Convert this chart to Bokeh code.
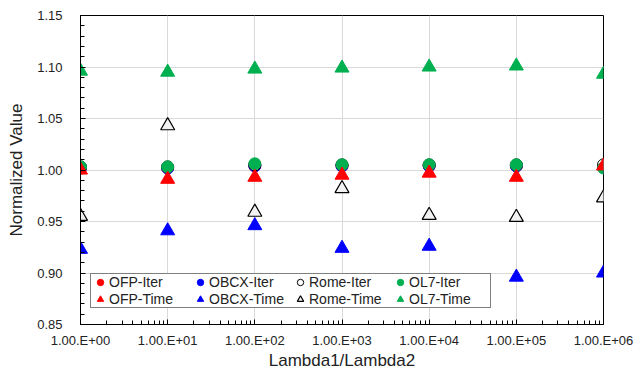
from bokeh.plotting import figure
from bokeh.models import (Range1d, FixedTicker, NumeralTickFormatter, CustomJSTickFormatter,
                          Legend, LegendItem)
from bokeh.embed import file_html
from bokeh.resources import INLINE

# ---- data ----
lambda_ratio = [1, 10, 100, 1000, 10000, 100000, 1000000]
x_tick_labels = ["1.00.E+00", "1.00.E+01", "1.00.E+02", "1.00.E+03",
                 "1.00.E+04", "1.00.E+05", "1.00.E+06"]
y_ticks = [0.85, 0.90, 0.95, 1.00, 1.05, 1.10, 1.15]

ofp_iter = [1.002, 1.002, 1.004, 1.004, 1.004, 1.004, 1.003]
obcx_iter = [1.002, 1.002, 1.004, 1.004, 1.004, 1.004, 1.003]
rome_iter = [1.003, 1.003, 1.005, 1.005, 1.005, 1.005, 1.005]
ol7_iter = [1.003, 1.003, 1.006, 1.005, 1.005, 1.005, 1.002]
ofp_time = [1.000, 0.991, 0.993, 0.995, 0.997, 0.993, 1.004]
obcx_time = [0.923, 0.941, 0.946, 0.924, 0.926, 0.896, 0.900]
rome_time = [0.955, 1.043, 0.959, 0.982, 0.956, 0.954, 0.973]
ol7_time = [1.096, 1.095, 1.098, 1.099, 1.100, 1.101, 1.093]

FONT = "Liberation Sans"
TXT = "#222222"

p = figure(width=635, height=372, x_axis_type="log",
           x_range=Range1d(1, 1e6), y_range=Range1d(0.85, 1.15),
           output_backend="svg", toolbar_location=None,
           min_border_left=80, min_border_right=32, min_border_top=15, min_border_bottom=47)

p.background_fill_color = "white"
p.border_fill_color = "white"
p.outline_line_color = "black"
p.outline_line_width = 1

# axes / ticks
x_minor = [m * 10 ** k for k in range(6) for m in range(2, 10)]
p.xaxis.ticker = FixedTicker(ticks=lambda_ratio, minor_ticks=x_minor)
p.xaxis.formatter = CustomJSTickFormatter(args=dict(labels=x_tick_labels),
                                          code="return labels[Math.round(Math.log10(tick))];")
y_minor = [round(0.85 + 0.01 * i, 2) for i in range(31)]
p.yaxis.ticker = FixedTicker(ticks=y_ticks, minor_ticks=y_minor)
p.yaxis.formatter = NumeralTickFormatter(format="0.00")

for ax in (p.xaxis, p.yaxis):
    ax.major_tick_in = 5
    ax.major_tick_out = 0
    ax.minor_tick_in = 4
    ax.minor_tick_out = 0
    ax.axis_line_color = "black"
    ax.major_tick_line_color = "black"
    ax.minor_tick_line_color = "black"
    ax.major_label_text_font = FONT
    ax.major_label_text_font_size = "13px"
    ax.major_label_text_color = TXT
    ax.axis_label_text_font = FONT
    ax.axis_label_text_font_size = "17px"
    ax.axis_label_text_font_style = "normal"
    ax.axis_label_text_color = TXT

p.xaxis.major_label_standoff = 8
p.xaxis.axis_label = "Lambda1/Lambda2"
p.xaxis.axis_label_standoff = 0
p.yaxis.major_label_standoff = 18
p.yaxis.axis_label = "Normalized Value"
p.yaxis.axis_label_standoff = 8

p.xgrid.grid_line_color = "#D9D9D9"
p.ygrid.grid_line_color = "#D9D9D9"

# ---- series ----
r_ofp_i = p.scatter(lambda_ratio, ofp_iter, marker="circle", size=12, fill_color="#FF0000", line_color="#FF0000")
r_obcx_i = p.scatter(lambda_ratio, obcx_iter, marker="circle", size=12, fill_color="#0000FF", line_color="#0000FF")
r_rome_i = p.scatter(lambda_ratio, rome_iter, marker="circle", size=12, fill_color="white", line_color="black")
r_ol7_i = p.scatter(lambda_ratio, ol7_iter, marker="circle", size=12, fill_color="#00B050", line_color="#00B050")
r_ofp_t = p.scatter(lambda_ratio, ofp_time, marker="triangle", size=14, fill_color="#FF0000", line_color="#FF0000")
r_obcx_t = p.scatter(lambda_ratio, obcx_time, marker="triangle", size=14, fill_color="#0000FF", line_color="#0000FF")
r_rome_t = p.scatter(lambda_ratio, rome_time, marker="triangle", size=14, fill_color="#F2F2F2", line_color="black",
                     line_width=1.2)
r_ol7_t = p.scatter(lambda_ratio, ol7_time, marker="triangle", size=14, fill_color="#00B050", line_color="#00B050")

legend = Legend(items=[
    LegendItem(label="OFP-Iter", renderers=[r_ofp_i]),
    LegendItem(label="OBCX-Iter", renderers=[r_obcx_i]),
    LegendItem(label="Rome-Iter", renderers=[r_rome_i]),
    LegendItem(label="OL7-Iter", renderers=[r_ol7_i]),
    LegendItem(label="OFP-Time", renderers=[r_ofp_t]),
    LegendItem(label="OBCX-Time", renderers=[r_obcx_t]),
    LegendItem(label="Rome-Time", renderers=[r_rome_t]),
    LegendItem(label="OL7-Time", renderers=[r_ol7_t]),
], location=(10, 16), orientation="horizontal", ncols=4)
legend.border_line_color = "black"
legend.border_line_width = 1
legend.background_fill_color = "white"
legend.background_fill_alpha = 1
legend.padding = 0
legend.margin = 0
legend.spacing = 1
legend.glyph_width = 18
legend.glyph_height = 16
legend.label_height = 16
legend.label_width = 81
legend.label_standoff = 0
legend.label_text_font = FONT
legend.label_text_font_size = "14px"
legend.label_text_color = TXT
p.add_layout(legend)

open("out.html", "w").write(file_html(p, INLINE))
